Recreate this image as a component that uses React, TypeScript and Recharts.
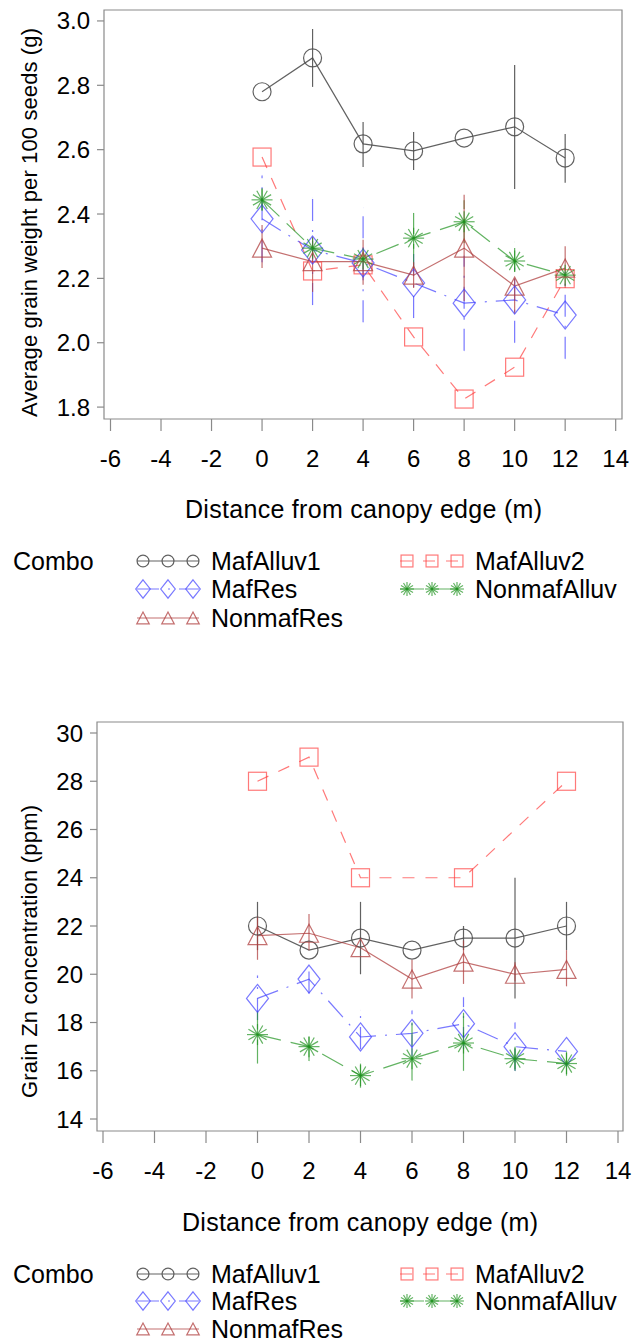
import React from "react"
import { ErrorBar, Line, LineChart, ReferenceArea, XAxis, YAxis } from "recharts"

// distance from canopy edge (m)
const distance = [0, 2, 4, 6, 8, 10, 12]
const xTicks = [-6, -4, -2, 0, 2, 4, 6, 8, 10, 12, 14]

// average grain weight per 100 seeds (g)
const weightTicks = [1.8, 2.0, 2.2, 2.4, 2.6, 2.8, 3.0]
const wMafAlluv1 = [2.78, 2.885, 2.618, 2.596, 2.636, 2.671, 2.574]
const wMafAlluv1Lo = [null, 2.795, 2.546, 2.537, null, 2.478, 2.497]
const wMafAlluv1Hi = [null, 2.975, 2.686, 2.655, null, 2.863, 2.649]
const wMafAlluv2 = [2.577, 2.223, 2.242, 2.018, 1.825, 1.924, 2.199]
const wMafAlluv2Lo = [null, null, null, null, null, null, null]
const wMafAlluv2Hi = [null, null, null, null, null, null, null]
const wMafRes = [2.385, 2.288, 2.248, 2.186, 2.123, 2.133, 2.086]
const wMafResLo = [2.25, 2.117, 2.064, 2.077, 1.975, 2.0, 1.95]
const wMafResHi = [2.52, 2.45, 2.42, 2.3, 2.27, 2.25, 2.22]
const wNonmafAlluv = [2.444, 2.294, 2.26, 2.325, 2.376, 2.254, 2.21]
const wNonmafAlluvLo = [2.41, null, null, 2.232, 2.31, 2.22, null]
const wNonmafAlluvHi = [2.48, null, null, 2.403, 2.443, 2.313, null]
const wNonmafRes = [2.294, 2.252, 2.252, 2.21, 2.294, 2.176, 2.232]
const wNonmafResLo = [2.232, 2.158, 2.18, 2.17, 2.13, 2.09, 2.17]
const wNonmafResHi = [2.366, 2.33, 2.32, 2.25, 2.46, 2.2, 2.3]

// grain Zn concentration (ppm)
const zincTicks = [14, 16, 18, 20, 22, 24, 26, 28, 30]
const zMafAlluv1 = [22.0, 21.0, 21.5, 21.0, 21.5, 21.5, 22.0]
const zMafAlluv1Lo = [21.0, null, 20.0, null, 21.0, 19.0, 21.0]
const zMafAlluv1Hi = [23.0, null, 23.0, null, 22.0, 24.0, 23.0]
const zMafAlluv2 = [28, 29, 24, null, 24, null, 28]
const zMafAlluv2Lo = [null, null, null, null, null, null, null]
const zMafAlluv2Hi = [null, null, null, null, null, null, null]
const zMafRes = [19.0, 19.8, 17.4, 17.55, 17.95, 17.0, 16.8]
const zMafResLo = [18.1, 19.2, 16.9, 16.6, 16.9, 16.0, null]
const zMafResHi = [19.95, 20.3, 18.5, 18.5, 19.05, 18.0, null]
const zNonmafAlluv = [17.5, 17.0, 15.8, 16.5, 17.15, 16.5, 16.3]
const zNonmafAlluvLo = [16.3, 16.4, 15.3, 15.6, 16.0, 16.0, 15.8]
const zNonmafAlluvHi = [18.45, 17.6, 16.4, 18.1, 18.6, 17.0, 16.85]
const zNonmafRes = [21.6, 21.7, 21.1, 19.8, 20.5, 20.0, 20.2]
const zNonmafResLo = [20.6, 21.0, null, 19.0, 19.6, 19.7, 19.5]
const zNonmafResHi = [22.4, 22.5, null, 20.6, 21.4, 20.5, 21.0]

const FONT = "'Liberation Sans', Arial, Helvetica, sans-serif"
const AXIS = "#8a8a8a"

type Num = number | null
type Style = { key: string; name: string; marker: string; color: string; dash?: string; opacity: number }

const styles: Style[] = [
  { key: "mafAlluv1", name: "MafAlluv1", marker: "circle", color: "#505050", opacity: 0.9 },
  { key: "mafAlluv2", name: "MafAlluv2", marker: "square", color: "#ff4040", dash: "12 11", opacity: 0.7 },
  { key: "mafRes", name: "MafRes", marker: "diamond", color: "#4040ff", dash: "22 9 2 9", opacity: 0.7 },
  { key: "nonmafAlluv", name: "NonmafAlluv", marker: "star", color: "#1f931f", dash: "24 10", opacity: 0.7 },
  { key: "nonmafRes", name: "NonmafRes", marker: "triangle", color: "#b04040", opacity: 0.75 },
]

function buildRows(series: Record<string, [Num[], Num[], Num[]]>) {
  return distance.map((x, i) => {
    const row: any = { x }
    for (const k of Object.keys(series)) {
      const [m, lo, hi] = series[k]
      const v = m[i]
      row[k] = v
      row[k + "Err"] = v == null || lo[i] == null || hi[i] == null ? null : [v - (lo[i] as number), (hi[i] as number) - v]
    }
    return row
  })
}

const weightRows = buildRows({
  mafAlluv1: [wMafAlluv1, wMafAlluv1Lo, wMafAlluv1Hi],
  mafAlluv2: [wMafAlluv2, wMafAlluv2Lo, wMafAlluv2Hi],
  mafRes: [wMafRes, wMafResLo, wMafResHi],
  nonmafAlluv: [wNonmafAlluv, wNonmafAlluvLo, wNonmafAlluvHi],
  nonmafRes: [wNonmafRes, wNonmafResLo, wNonmafResHi],
})

const zincRows = buildRows({
  mafAlluv1: [zMafAlluv1, zMafAlluv1Lo, zMafAlluv1Hi],
  mafAlluv2: [zMafAlluv2, zMafAlluv2Lo, zMafAlluv2Hi],
  mafRes: [zMafRes, zMafResLo, zMafResHi],
  nonmafAlluv: [zNonmafAlluv, zNonmafAlluvLo, zNonmafAlluvHi],
  nonmafRes: [zNonmafRes, zNonmafResLo, zNonmafResHi],
})

function Marker({ kind, cx, cy, color, opacity, s = 1 }: any) {
  const common = { fill: "none", stroke: color, strokeOpacity: opacity, strokeWidth: 1.2 }
  if (kind === "circle") return <circle cx={cx} cy={cy} r={9 * s} {...common} />
  if (kind === "square") return <rect x={cx - 9 * s} y={cy - 9 * s} width={18 * s} height={18 * s} {...common} />
  if (kind === "diamond") {
    const pts = `${cx},${cy - 14 * s} ${cx + 11 * s},${cy} ${cx},${cy + 14 * s} ${cx - 11 * s},${cy}`
    return <polygon points={pts} {...common} />
  }
  if (kind === "triangle") {
    const pts = `${cx},${cy - 9 * s} ${cx + 9.5 * s},${cy + 9 * s} ${cx - 9.5 * s},${cy + 9 * s}`
    return <polygon points={pts} {...common} />
  }
  // asterisk-like star
  const r = 10.5 * s
  return (
    <g>
      {[0, 30, 60, 90, 120, 150].map((a) => {
        const rad = (a * Math.PI) / 180
        const dx = Math.cos(rad) * r
        const dy = Math.sin(rad) * r
        return <line key={a} x1={cx - dx} y1={cy - dy} x2={cx + dx} y2={cy + dy} {...common} />
      })}
    </g>
  )
}

function Panel({ rows, xDomain, yDomain, yTicks, yWidth, right, yLabelX, digits, connect }: any) {
  return (
    <LineChart width={633} height={480} data={rows} margin={{ top: 10, right, left: 0, bottom: 0 }}>
      <ReferenceArea
        x1={xDomain[0]}
        x2={xDomain[1]}
        y1={yDomain[0]}
        y2={yDomain[1]}
        fill="none"
        stroke={AXIS}
        strokeWidth={1.2}
        ifOverflow="visible"
      />
      <XAxis
        dataKey="x"
        type="number"
        domain={xDomain}
        ticks={xTicks}
        allowDataOverflow
        height={61}
        axisLine={false}
        tickSize={12}
        tickLine={{ stroke: AXIS, strokeWidth: 1.2 }}
        interval={0}
        tick={(p: any) => (
          <text x={p.x} y={467} textAnchor="middle" fontFamily={FONT} fontSize={24} fill="#000">
            {p.payload.value}
          </text>
        )}
      />
      <YAxis
        type="number"
        domain={yDomain}
        ticks={yTicks}
        allowDataOverflow
        width={yWidth}
        axisLine={false}
        tickSize={7}
        tickLine={{ stroke: AXIS, strokeWidth: 1.2 }}
        interval={0}
        tick={(p: any) => (
          <text x={yLabelX} y={p.y + 8.5} textAnchor="end" fontFamily={FONT} fontSize={24} fill="#000">
            {Number(p.payload.value).toFixed(digits)}
          </text>
        )}
      />
      {styles.map((s) => (
        <Line
          key={s.key}
          dataKey={s.key}
          type="linear"
          stroke={s.color}
          strokeOpacity={s.opacity}
          strokeWidth={1.2}
          strokeDasharray={s.dash}
          connectNulls={connect}
          isAnimationActive={false}
          activeDot={false}
          dot={(p: any) =>
            p.cy == null || p.value == null ? (
              <g key={`${s.key}-${p.index}`} />
            ) : (
              <Marker key={`${s.key}-${p.index}`} kind={s.marker} cx={p.cx} cy={p.cy} color={s.color} opacity={s.opacity} />
            )
          }
        >
          <ErrorBar
            dataKey={s.key + "Err"}
            direction="y"
            width={0}
            stroke={s.color}
            strokeOpacity={s.opacity}
            strokeWidth={1.2}
            strokeDasharray={s.dash}
            isAnimationActive={false}
          />
        </Line>
      ))}
    </LineChart>
  )
}

function LegendBlock({ rows }: { rows: number[] }) {
  const cols = [
    { xs: [143, 168, 193], x0: 137, x1: 199, tx: 211 },
    { xs: [407, 432, 457], x0: 400, x1: 463, tx: 475 },
  ]
  const place: [number, number, string][] = [
    [0, 0, "mafAlluv1"],
    [0, 1, "mafRes"],
    [0, 2, "nonmafRes"],
    [1, 0, "mafAlluv2"],
    [1, 1, "nonmafAlluv"],
  ]
  return (
    <g>
      <text x={13} y={rows[0]} fontFamily={FONT} fontSize={25} fill="#000">
        Combo
      </text>
      {place.map(([c, r, key]) => {
        const s = styles.find((t) => t.key === key) as Style
        const col = cols[c]
        const cy = rows[r] - 9
        return (
          <g key={key}>
            <line
              x1={col.x0}
              x2={col.x1}
              y1={cy}
              y2={cy}
              stroke={s.color}
              strokeOpacity={s.opacity}
              strokeWidth={1.2}
              strokeDasharray={s.dash}
            />
            {col.xs.map((x) => (
              <Marker key={x} kind={s.marker} cx={x} cy={cy} color={s.color} opacity={s.opacity} s={0.66} />
            ))}
            <text x={col.tx} y={rows[r]} fontFamily={FONT} fontSize={25} fill="#000">
              {s.name}
            </text>
          </g>
        )
      })}
    </g>
  )
}

export default function App() {
  return (
    <div style={{ position: "absolute", left: 0, top: 0, width: 633, height: 1343, background: "#fff", overflow: "hidden" }}>
      <div style={{ position: "absolute", left: 0, top: 0 }}>
        <Panel
          rows={weightRows}
          xDomain={[-6.257, 14.25]}
          yDomain={[1.763, 3.034]}
          yTicks={weightTicks}
          yWidth={104}
          right={11}
          yLabelX={90}
          digits={1}
          connect={false}
        />
      </div>
      <div style={{ position: "absolute", left: 0, top: 712 }}>
        <Panel
          rows={zincRows}
          xDomain={[-6.233, 14.194]}
          yDomain={[13.503, 30.456]}
          yTicks={zincTicks}
          yWidth={97}
          right={10}
          yLabelX={83}
          digits={0}
          connect={true}
        />
      </div>
      <svg width={633} height={1343} style={{ position: "absolute", left: 0, top: 0, pointerEvents: "none" }}>
        <text
          x={37}
          y={222.5}
          transform="rotate(-90 37 222.5)"
          textAnchor="middle"
          fontFamily={FONT}
          fontSize={22}
          textLength={389}
          lengthAdjust="spacing"
          fill="#000"
        >
          Average grain weight per 100 seeds (g)
        </text>
        <text x={363.5} y={518} textAnchor="middle" fontFamily={FONT} fontSize={25} textLength={357} lengthAdjust="spacing" fill="#000">
          Distance from canopy edge (m)
        </text>
        <LegendBlock rows={[570, 598, 627]} />
        <text
          x={37}
          y={951.5}
          transform="rotate(-90 37 951.5)"
          textAnchor="middle"
          fontFamily={FONT}
          fontSize={22}
          textLength={293}
          lengthAdjust="spacing"
          fill="#000"
        >
          Grain Zn concentration (ppm)
        </text>
        <text x={360} y={1231} textAnchor="middle" fontFamily={FONT} fontSize={25} textLength={356} lengthAdjust="spacing" fill="#000">
          Distance from canopy edge (m)
        </text>
        <LegendBlock rows={[1283, 1310, 1338]} />
      </svg>
    </div>
  )
}
